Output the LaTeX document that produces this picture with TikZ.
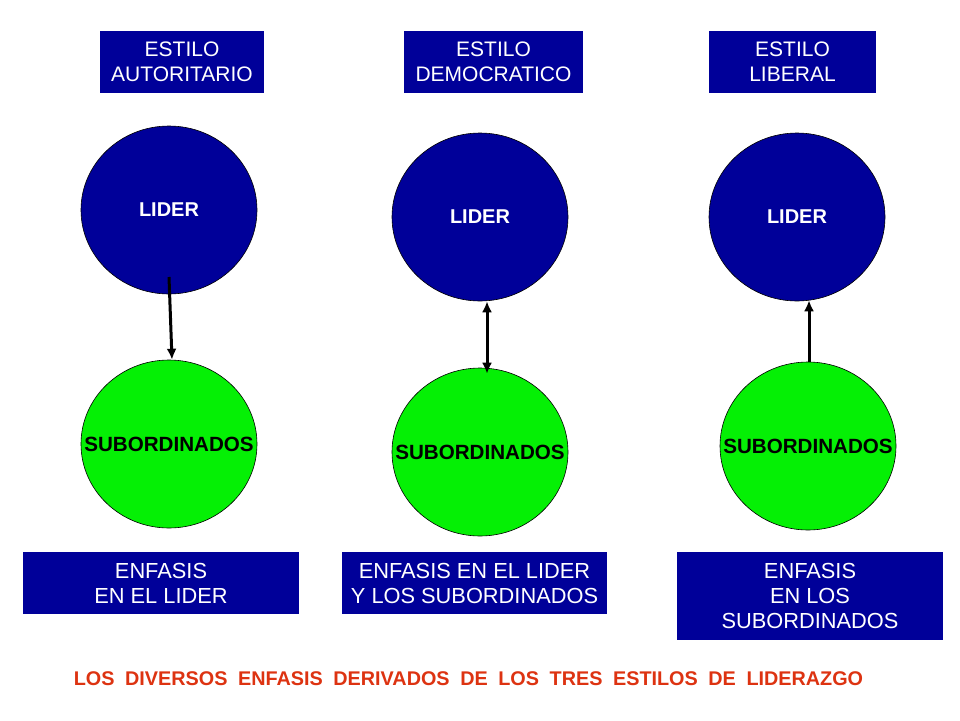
\documentclass[tikz,border=0pt]{standalone}
\usepackage{fontspec}
\setmainfont{Liberation Sans}
\usetikzlibrary{shapes.geometric,arrows.meta,calc}
\definecolor{navy}{RGB}{0,0,153}
\definecolor{lgreen}{RGB}{5,240,5}
\definecolor{tred}{RGB}{221,51,17}
\tikzset{
  box/.style={rectangle,fill=navy,text=white,align=center,inner sep=0pt},
  topfont/.style={font=\fontsize{21}{25}\selectfont},
  botfont/.style={font=\fontsize{21.8}{25}\selectfont},
  disc/.style={ellipse,draw=black,line width=0.6pt,minimum width=176pt,minimum height=168pt,inner sep=0pt},
  lider/.style={disc,fill=navy},
  sub/.style={disc,fill=lgreen},
  lidertext/.style={text=white,inner sep=0pt,font=\bfseries\fontsize{20}{24}\selectfont},
  subtext/.style={text=black,inner sep=0pt,font=\bfseries\fontsize{20.6}{24}\selectfont},
  conn/.style={line width=3pt,-{Latex[length=11pt,width=10pt]}},
  conn2/.style={line width=3pt,{Latex[length=11pt,width=10pt]}-{Latex[length=11pt,width=10pt]}}
}
\begin{document}
\begin{tikzpicture}[x=1pt,y=-1pt]
\fill[white] (0,0) rectangle (960,720);
\useasboundingbox (0,0) rectangle (960,720);
% top boxes
\node[box,topfont,minimum width=164pt,minimum height=62pt] (t1) at (182,62) {ESTILO\\AUTORITARIO};
\node[box,topfont,minimum width=179pt,minimum height=62pt] (t2) at (493.5,62) {ESTILO\\DEMOCRATICO};
\node[box,topfont,minimum width=167pt,minimum height=62pt] (t3) at (792.5,62) {ESTILO\\LIBERAL};
% leader circles
\node[lider] (l1) at (169,210) {};
\node[lider] (l2) at (480,217) {};
\node[lider] (l3) at (797,217) {};
\node[lidertext] (l1t) at (l1.center) {LIDER};
\node[lidertext] (l2t) at (l2.center) {LIDER};
\node[lidertext] (l3t) at (l3.center) {LIDER};
% subordinate circles
\node[sub] (s1) at (169,444) {};
\node[sub] (s2) at (480,452) {};
\node[sub] (s3) at (808,446) {};
\node[subtext] (s1t) at (s1.center) {SUBORDINADOS};
\node[subtext] (s2t) at (s2.center) {SUBORDINADOS};
\node[subtext] (s3t) at (s3.center) {SUBORDINADOS};
% connectors
\draw[conn] ($(l1.center)+(0,67)$) -- ($(s1.north)+(3,0)$);
\draw[conn2] ($(l2.south)+(7,0)$) -- ($(s2.north)+(7,6)$);
\draw[conn] ($(s3.north)+(1,0)$) -- ($(l3.south)+(12,-1)$);
% bottom boxes
\node[box,botfont,minimum width=276pt,minimum height=62pt] (b1) at (161,583) {ENFASIS\\EN EL LIDER};
\node[box,botfont,minimum width=265pt,minimum height=62pt] (b2) at (474.5,583) {ENFASIS EN EL LIDER\\Y LOS SUBORDINADOS};
\node[box,botfont,minimum width=266pt,minimum height=88pt] (b3) at (810,596) {ENFASIS\\EN LOS\\SUBORDINADOS};
% title
\node[text=tred,font=\bfseries\fontsize{19.8}{22}\selectfont,inner sep=0pt,anchor=base] (title) at (468.5,685)
  {\spaceskip=10.6pt LOS DIVERSOS ENFASIS DERIVADOS DE LOS TRES ESTILOS DE LIDERAZGO};
\end{tikzpicture}
\end{document}
